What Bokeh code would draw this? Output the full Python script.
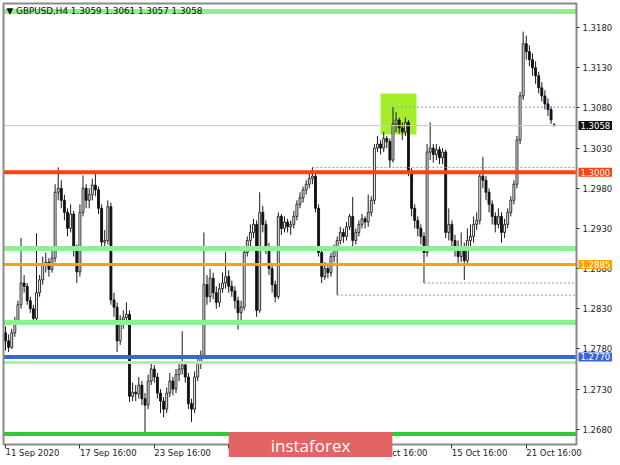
from bokeh.plotting import figure
from bokeh.models import Range1d, FixedTicker, Label, ColumnDataSource, LinearAxis, NumeralTickFormatter
from bokeh.embed import file_html
from bokeh.resources import INLINE

# ---------------- data ----------------
chart_title = "\u25BC GBPUSD,H4  1.3059 1.3061 1.3057 1.3058"

opens = [
    1.2800, 1.2790, 1.2782, 1.2800, 1.2815, 1.2835, 1.2862, 1.2858, 1.2840, 1.2830,
    1.2818, 1.2850, 1.2866, 1.2885, 1.2888, 1.2879, 1.2893, 1.2975, 1.2980, 1.2965,
    1.2950, 1.2930, 1.2948, 1.2903, 1.2876, 1.2950, 1.2980, 1.2965, 1.2972, 1.2984,
    1.2978, 1.2955, 1.2913, 1.2915, 1.2957, 1.2841, 1.2832, 1.2790, 1.2816, 1.2819,
    1.2823, 1.2721, 1.2726, 1.2724, 1.2735, 1.2718, 1.2710, 1.2740, 1.2755, 1.2745,
    1.2725, 1.2715, 1.2705, 1.2725, 1.2740, 1.2730, 1.2748, 1.2755, 1.2760, 1.2745,
    1.2712, 1.2705, 1.2745, 1.2762, 1.2772, 1.2860, 1.2845, 1.2868, 1.2850, 1.2838,
    1.2855, 1.2862, 1.2870, 1.2858, 1.2852, 1.2840, 1.2825, 1.2832, 1.2900, 1.2915,
    1.2925, 1.2935, 1.2828, 1.2950, 1.2935, 1.2905, 1.2880, 1.2860, 1.2845, 1.2945,
    1.2930, 1.2938, 1.2932, 1.2935, 1.2945, 1.2960, 1.2968, 1.2978, 1.2985, 1.2992,
    1.2995, 1.2955, 1.2900, 1.2870, 1.2880, 1.2875, 1.2895, 1.2905, 1.2915, 1.2925,
    1.2920, 1.2932, 1.2945, 1.2915, 1.2925, 1.2935, 1.2942, 1.2938, 1.2950, 1.2965,
    1.3030, 1.3035, 1.3030, 1.3042, 1.3038, 1.3015, 1.3060, 1.3065, 1.3055, 1.3050,
    1.3062, 1.3000, 1.2955, 1.2940, 1.2930, 1.2920, 1.2900, 1.3025, 1.3030, 1.3022,
    1.3028, 1.3018, 1.3025, 1.2925, 1.2935, 1.2915, 1.2905, 1.2895, 1.2905, 1.2890,
    1.2915, 1.2920, 1.2935, 1.2940, 1.2995, 1.2990, 1.2975, 1.2960, 1.2945, 1.2935,
    1.2945, 1.2925, 1.2935, 1.2950, 1.2965, 1.2985, 1.3040, 1.3095, 1.3160, 1.3150,
    1.3140, 1.3130, 1.3120, 1.3105, 1.3095, 1.3085, 1.3078, 1.3059,
]
highs = [
    1.2808, 1.2798, 1.2805, 1.2820, 1.2840, 1.2918, 1.2872, 1.2862, 1.2845, 1.2835,
    1.2924, 1.2872, 1.2895, 1.2900, 1.2893, 1.2905, 1.2985, 1.3006, 1.2990, 1.2972,
    1.2955, 1.2960, 1.2952, 1.2910, 1.2960, 1.2996, 1.2985, 1.2980, 1.2992, 1.2999,
    1.2982, 1.2960, 1.2928, 1.2965, 1.2962, 1.2850, 1.2838, 1.2822, 1.2828, 1.2838,
    1.2828, 1.2738, 1.2735, 1.2745, 1.2740, 1.2725, 1.2748, 1.2765, 1.2760, 1.2750,
    1.2730, 1.2720, 1.2732, 1.2750, 1.2745, 1.2755, 1.2762, 1.2802, 1.2765, 1.2750,
    1.2718, 1.2752, 1.2768, 1.2778, 1.2925, 1.2872, 1.2880, 1.2875, 1.2858, 1.2862,
    1.2875, 1.2901, 1.2878, 1.2865, 1.2858, 1.2845, 1.2840, 1.2905, 1.2920, 1.2935,
    1.2942, 1.2940, 1.2975, 1.2958, 1.2940, 1.2912, 1.2885, 1.2865, 1.2950, 1.2948,
    1.2945, 1.2942, 1.2940, 1.2952, 1.2965, 1.2975, 1.2982, 1.2990, 1.2998, 1.3006,
    1.2998, 1.2960, 1.2905, 1.2888, 1.2886, 1.2900, 1.2910, 1.2920, 1.2932, 1.2930,
    1.2938, 1.2948, 1.2969, 1.2930, 1.2940, 1.2948, 1.2945, 1.2972, 1.2970, 1.3035,
    1.3045, 1.3040, 1.3050, 1.3045, 1.3042, 1.3081, 1.3075, 1.3068, 1.3062, 1.3068,
    1.3065, 1.3005, 1.2960, 1.2945, 1.2935, 1.2925, 1.3035, 1.3062, 1.3035, 1.3035,
    1.3032, 1.3030, 1.3028, 1.2955, 1.2940, 1.2922, 1.2915, 1.2925, 1.2912, 1.2930,
    1.2935, 1.2945, 1.2950, 1.3000, 1.3019, 1.2995, 1.2980, 1.2965, 1.2950, 1.2955,
    1.2950, 1.2942, 1.2955, 1.2970, 1.2990, 1.3045, 1.3100, 1.3175, 1.3170, 1.3158,
    1.3148, 1.3138, 1.3125, 1.3112, 1.3102, 1.3092, 1.3082, 1.3061,
]
lows = [
    1.2778, 1.2776, 1.2780, 1.2795, 1.2812, 1.2830, 1.2850, 1.2835, 1.2825, 1.2813,
    1.2815, 1.2845, 1.2860, 1.2875, 1.2870, 1.2875, 1.2888, 1.2965, 1.2955, 1.2940,
    1.2920, 1.2925, 1.2895, 1.2862, 1.2870, 1.2945, 1.2955, 1.2955, 1.2965, 1.2970,
    1.2948, 1.2905, 1.2905, 1.2910, 1.2835, 1.2820, 1.2776, 1.2785, 1.2805, 1.2812,
    1.2714, 1.2715, 1.2715, 1.2718, 1.2710, 1.2676, 1.2705, 1.2735, 1.2738, 1.2718,
    1.2700, 1.2695, 1.2700, 1.2720, 1.2722, 1.2725, 1.2740, 1.2748, 1.2738, 1.2705,
    1.2689, 1.2700, 1.2740, 1.2755, 1.2768, 1.2835, 1.2838, 1.2842, 1.2830, 1.2832,
    1.2850, 1.2855, 1.2850, 1.2845, 1.2830, 1.2804, 1.2815, 1.2828, 1.2895, 1.2908,
    1.2918, 1.2820, 1.2825, 1.2925, 1.2898, 1.2872, 1.2850, 1.2838, 1.2842, 1.2922,
    1.2925, 1.2925, 1.2922, 1.2930, 1.2940, 1.2955, 1.2962, 1.2972, 1.2980, 1.2985,
    1.2950, 1.2895, 1.2862, 1.2866, 1.2868, 1.2870, 1.2888, 1.2847, 1.2910, 1.2912,
    1.2915, 1.2928, 1.2905, 1.2910, 1.2920, 1.2930, 1.2930, 1.2932, 1.2945, 1.2960,
    1.3025, 1.3022, 1.3025, 1.3030, 1.3005, 1.3012, 1.3050, 1.3048, 1.3040, 1.3045,
    1.2995, 1.2945, 1.2930, 1.2920, 1.2910, 1.2862, 1.2895, 1.3015, 1.3012, 1.3015,
    1.3010, 1.3010, 1.2918, 1.2915, 1.2908, 1.2895, 1.2885, 1.2888, 1.2866, 1.2885,
    1.2905, 1.2912, 1.2928, 1.2935, 1.2980, 1.2965, 1.2950, 1.2935, 1.2925, 1.2930,
    1.2912, 1.2918, 1.2930, 1.2945, 1.2960, 1.2980, 1.3035, 1.3090, 1.3140, 1.3132,
    1.3120, 1.3110, 1.3098, 1.3088, 1.3078, 1.3070, 1.3060, 1.3057,
]
closes = [
    1.2790, 1.2782, 1.2800, 1.2815, 1.2835, 1.2862, 1.2858, 1.2840, 1.2830, 1.2818,
    1.2850, 1.2866, 1.2885, 1.2888, 1.2879, 1.2893, 1.2975, 1.2980, 1.2965, 1.2950,
    1.2930, 1.2948, 1.2903, 1.2876, 1.2950, 1.2980, 1.2965, 1.2972, 1.2984, 1.2978,
    1.2955, 1.2913, 1.2915, 1.2957, 1.2841, 1.2832, 1.2790, 1.2816, 1.2819, 1.2823,
    1.2721, 1.2726, 1.2724, 1.2735, 1.2718, 1.2710, 1.2740, 1.2755, 1.2745, 1.2725,
    1.2715, 1.2705, 1.2725, 1.2740, 1.2730, 1.2748, 1.2755, 1.2760, 1.2745, 1.2712,
    1.2705, 1.2745, 1.2762, 1.2772, 1.2860, 1.2845, 1.2868, 1.2850, 1.2838, 1.2855,
    1.2862, 1.2870, 1.2858, 1.2852, 1.2840, 1.2825, 1.2832, 1.2900, 1.2915, 1.2925,
    1.2935, 1.2828, 1.2950, 1.2935, 1.2905, 1.2880, 1.2860, 1.2845, 1.2945, 1.2930,
    1.2938, 1.2932, 1.2935, 1.2945, 1.2960, 1.2968, 1.2978, 1.2985, 1.2992, 1.2995,
    1.2955, 1.2900, 1.2870, 1.2880, 1.2875, 1.2895, 1.2905, 1.2915, 1.2925, 1.2920,
    1.2932, 1.2945, 1.2915, 1.2925, 1.2935, 1.2942, 1.2938, 1.2950, 1.2965, 1.3030,
    1.3035, 1.3030, 1.3042, 1.3038, 1.3015, 1.3060, 1.3065, 1.3055, 1.3050, 1.3062,
    1.3000, 1.2955, 1.2940, 1.2930, 1.2920, 1.2900, 1.3025, 1.3030, 1.3022, 1.3028,
    1.3018, 1.3025, 1.2925, 1.2935, 1.2915, 1.2905, 1.2895, 1.2905, 1.2890, 1.2915,
    1.2920, 1.2935, 1.2940, 1.2995, 1.2990, 1.2975, 1.2960, 1.2945, 1.2935, 1.2945,
    1.2925, 1.2935, 1.2950, 1.2965, 1.2985, 1.3040, 1.3095, 1.3160, 1.3150, 1.3140,
    1.3130, 1.3120, 1.3105, 1.3095, 1.3085, 1.3078, 1.3065, 1.3058,
]

price_ticks = [1.2680, 1.2730, 1.2780, 1.2830, 1.2880, 1.2930, 1.2980, 1.3030, 1.3080, 1.3130, 1.3180]
time_tick_bars = [0, 24, 48, 72, 96, 120, 144, 168]
time_tick_labels = ["11 Sep 2020", "17 Sep 16:00", "23 Sep 16:00", "29 Sep 16:00",
                    "5 Oct 16:00", "9 Oct 16:00", "15 Oct 16:00", "21 Oct 16:00"]

zone_levels = [1.3200, 1.2905, 1.2813, 1.2763, 1.2674]          # green zone lines
key_levels = [1.3000, 1.2885, 1.2770]                           # red, orange, blue
bid_price = 1.3058
dotted_start_bars = [125, 99, 135, 107]                         # bars of the marked extremes
dotted_levels = [highs[125], highs[99], lows[135], lows[107]]
box_bars = [121, 132.6]
box_prices = [1.3047, 1.3098]

# ---------------- geometry / style ----------------
X_START, X_END = -0.65, 184.2          # visible bar window of the chart box
Y_LOW, Y_HIGH = 1.2661, 1.3210         # visible price window of the chart box
FIG_W, FIG_H = 612, 457
BOX_L, BOX_R, BOX_T, BOX_B = 3, 576, 3, 444   # chart box edges in canvas pixels
FONT = "DejaVu Sans"

xpp = (X_END - X_START) / (BOX_R - BOX_L)
ypp = (Y_HIGH - Y_LOW) / (BOX_B - BOX_T)
x_range = Range1d(X_START - BOX_L * xpp, X_END + (FIG_W - BOX_R) * xpp)
y_range = Range1d(Y_LOW - (FIG_H - BOX_B) * ypp, Y_HIGH + BOX_T * ypp)

p = figure(width=FIG_W, height=FIG_H, output_backend="svg", toolbar_location=None,
           x_range=x_range, y_range=y_range, title=None,
           x_axis_location=None, y_axis_location=None,
           min_border_left=0, min_border_right=0, min_border_top=0, min_border_bottom=0)
p.background_fill_color = "white"
p.border_fill_color = "white"
p.outline_line_color = None
p.grid.visible = False

# highlight box
p.quad(left=[box_bars[0]], right=[box_bars[1]], bottom=[box_prices[0]], top=[box_prices[1]],
       fill_color="#a6ee2c", line_color=None)

# candles
idx = list(range(len(closes)))
up_i = [i for i in idx if closes[i] >= opens[i]]
dn_i = [i for i in idx if closes[i] < opens[i]]
wick_src = ColumnDataSource(dict(x=idx, h=highs, l=lows))
p.segment(x0="x", y0="l", x1="x", y1="h", source=wick_src, line_color="#1a1a1a", line_width=1)
up_src = ColumnDataSource(dict(x=up_i, top=[closes[i] for i in up_i], bottom=[opens[i] for i in up_i]))
dn_src = ColumnDataSource(dict(x=dn_i, top=[opens[i] for i in dn_i], bottom=[closes[i] for i in dn_i]))
p.vbar(x="x", top="top", bottom="bottom", width=0.62, source=up_src,
       fill_color="white", line_color="#1a1a1a", line_width=0.9)
p.vbar(x="x", top="top", bottom="bottom", width=0.62, source=dn_src,
       fill_color="#111111", line_color="#111111", line_width=0.9)

# dotted marker lines (from the marked bar to the right edge)
p.segment(x0=dotted_start_bars, y0=dotted_levels, x1=[X_END] * len(dotted_levels), y1=dotted_levels,
          line_color="#5aa5ee", line_dash="2 2", line_width=1)

# bid line
p.segment(x0=[X_START], y0=[bid_price], x1=[X_END], y1=[bid_price], line_color="#c8c8c8", line_width=1)

# zone and key lines
zone_colors = ["#8ff08f", "#8ff08f", "#8ff08f", "#a6f2a6", "#2fcc2f"]
zone_widths = [5, 5, 5, 3, 4]
p.segment(x0=[X_START] * len(zone_levels), y0=zone_levels, x1=[X_END] * len(zone_levels), y1=zone_levels,
          line_color=zone_colors, line_width=zone_widths)
key_colors = ["#ff4010", "#ffa000", "#3a66d8"]
key_widths = [4, 3, 4]
p.segment(x0=[X_START] * len(key_levels), y0=key_levels, x1=[X_END] * len(key_levels), y1=key_levels,
          line_color=key_colors, line_width=key_widths)

# chart box border
p.quad(left=[X_START], right=[X_END], bottom=[Y_LOW], top=[Y_HIGH],
       fill_color=None, line_color="#8a8a8a", line_width=2)

# price axis, fixed at the chart box's right edge
ya = LinearAxis(fixed_location=X_END, bounds=(Y_LOW, Y_HIGH))
ya.ticker = FixedTicker(ticks=price_ticks)
ya.formatter = NumeralTickFormatter(format="0.0000")
ya.axis_line_color = None
ya.major_tick_out = 3
ya.major_tick_in = 0
ya.minor_tick_line_color = None
ya.major_tick_line_color = "#333333"
ya.major_label_text_font = FONT
ya.major_label_text_font_size = "8.5px"
ya.major_label_text_color = "#222222"
ya.major_label_standoff = 3
p.add_layout(ya, "right")

# time axis, fixed at the chart box's bottom edge
xa = LinearAxis(fixed_location=Y_LOW, bounds=(X_START, X_END))
xa.ticker = FixedTicker(ticks=time_tick_bars)
xa.major_label_overrides = dict(zip(time_tick_bars, time_tick_labels))
xa.major_label_orientation = -0.0001
xa.axis_line_color = None
xa.major_tick_out = 4
xa.major_tick_in = 0
xa.minor_tick_line_color = None
xa.major_tick_line_color = "#333333"
xa.major_label_text_font = FONT
xa.major_label_text_font_size = "8.5px"
xa.major_label_text_color = "#222222"
xa.major_label_standoff = 4
p.add_layout(xa, "below")

# price tags on the axis
tag_prices = [bid_price] + key_levels
tag_colors = ["#111111"] + key_colors
for pr, c in zip(tag_prices, tag_colors):
    p.add_layout(Label(x=X_END, y=pr, x_offset=2, text=f"{pr:.4f}", text_color="white",
                       text_font=FONT, text_font_size="8.5px", text_baseline="middle",
                       text_align="left", background_fill_color=c, padding=(2, 1), level="overlay"))

# title
p.add_layout(Label(x=X_START, y=Y_HIGH, x_offset=3, y_offset=-7, text=chart_title,
                   text_color="#111111", text_font=FONT, text_font_size="8.8px",
                   text_baseline="middle", text_align="left"))

# watermark
p.add_layout(Label(x=98.4, y=Y_LOW, y_offset=-1, text="instaforex", text_color="white",
                   text_font="Open Sans", text_font_size="17px", text_baseline="middle",
                   text_align="center", background_fill_color="#e26464", padding=(42, 2),
                   level="overlay"))

open("out.html", "w").write(file_html(p, INLINE))
